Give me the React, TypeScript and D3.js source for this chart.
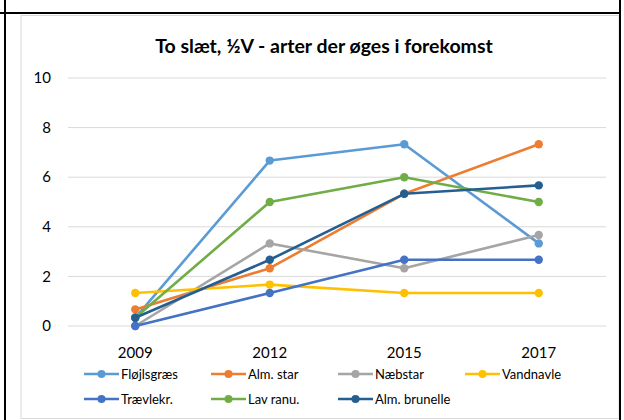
import * as d3 from 'd3';

const years = ['2009', '2012', '2015', '2017'];
const seriesNames = ['Fløjlsgræs', 'Alm. star', 'Næbstar', 'Vandnavle', 'Trævlekr.', 'Lav ranu.', 'Alm. brunelle'];
const seriesColors = ['#5B9BD5', '#ED7D31', '#A5A5A5', '#FFC000', '#4472C4', '#70AD47', '#255E91'];
const floejlsgraes = [0.33, 6.67, 7.33, 3.33];
const almStar = [0.67, 2.33, 5.33, 7.33];
const naebstar = [0, 3.33, 2.33, 3.67];
const vandnavle = [1.33, 1.67, 1.33, 1.33];
const traevlekr = [0, 1.33, 2.67, 2.67];
const lavRanu = [0.33, 5, 6, 5];
const almBrunelle = [0.33, 2.67, 5.33, 5.67];
const yTicks = [0, 2, 4, 6, 8, 10];

const allValues = [floejlsgraes, almStar, naebstar, vandnavle, traevlekr, lavRanu, almBrunelle];

const font = 'Lato, "Open Sans", sans-serif';

export default function App() {
  const width = 624;
  const height = 420;

  const x = d3.scaleBand().domain(years).range([68, 606]);
  const y = d3.scaleLinear().domain([0, 10]).range([326, 78]);

  const line = d3.line<number>()
    .x((_, i) => x(years[i])! + x.bandwidth() / 2)
    .y(d => y(d));

  // legend layout
  const legendX0 = 84;
  const legendStep = 127;
  const legendRows = [374, 399];

  return (
    <div style={{ position: 'fixed', left: 0, top: 0 }}>
      <svg width={width} height={height} style={{ display: 'block' }}>
        <rect x={0} y={0} width={width} height={height} fill="#fff" />
        {/* chart frame */}
        <rect x={21} y={15.5} width={598} height={403} fill="#fff" stroke="#D9D9D9" strokeWidth={1} />

        {/* table borders */}
        <line x1={5} x2={5} y1={0} y2={height} stroke="#000" strokeWidth={2} />
        <line x1={0} x2={621} y1={13} y2={13} stroke="#000" strokeWidth={2} />
        <line x1={620} x2={620} y1={0} y2={height} stroke="#000" strokeWidth={2} />

        <text x={324} y={53} textAnchor="middle" fontFamily={font} fontWeight="bold" fontSize={19.5} fill="#000">
          To slæt, ½V - arter der øges i forekomst
        </text>

        {/* gridlines + y ticks */}
        {yTicks.map(t => (
          <g key={t}>
            <line x1={68} x2={606} y1={y(t)} y2={y(t)} stroke="#D9D9D9" strokeWidth={1} />
            <text x={51} y={y(t)} dy="0.35em" textAnchor="end" fontFamily={font} fontSize={15} fill="#000">
              {t}
            </text>
          </g>
        ))}

        {/* x labels */}
        {years.map(yr => (
          <text key={yr} x={x(yr)! + x.bandwidth() / 2} y={358} textAnchor="middle" fontFamily={font} fontSize={15} fill="#000">
            {yr}
          </text>
        ))}

        {/* series */}
        {allValues.map((vals, si) => (
          <g key={seriesNames[si]}>
            <path d={line(vals)!} fill="none" stroke={seriesColors[si]} strokeWidth={2.6} strokeLinejoin="round" strokeLinecap="round" />
            {vals.map((v, i) => (
              <circle key={i} cx={x(years[i])! + x.bandwidth() / 2} cy={y(v)} r={4.2} fill={seriesColors[si]} />
            ))}
          </g>
        ))}

        {/* legend */}
        {seriesNames.map((name, i) => {
          const col = i % 4;
          const row = Math.floor(i / 4);
          const lx = legendX0 + col * legendStep;
          const ly = legendRows[row];
          return (
            <g key={name}>
              <line x1={lx} x2={lx + 35} y1={ly} y2={ly} stroke={seriesColors[i]} strokeWidth={2.6} />
              <circle cx={lx + 17.5} cy={ly} r={4} fill={seriesColors[i]} />
              <text x={lx + 37} y={ly} dy="0.35em" fontFamily={font} fontSize={13} fill="#000">
                {name}
              </text>
            </g>
          );
        })}
      </svg>
    </div>
  );
}
